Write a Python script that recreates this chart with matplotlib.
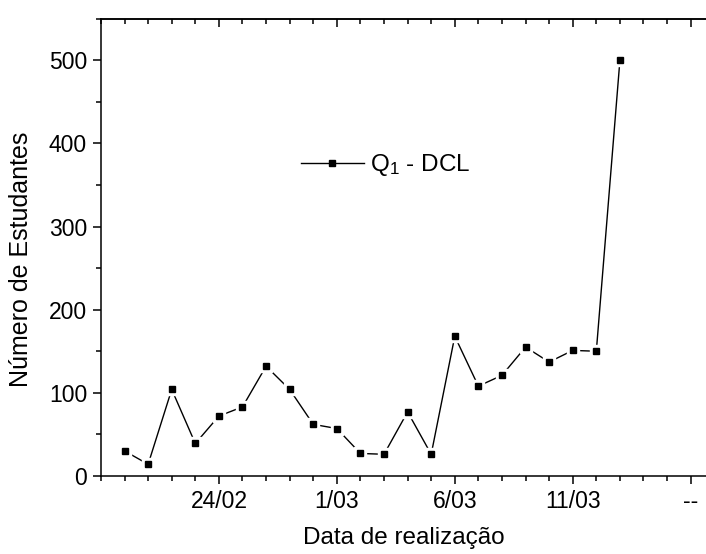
import numpy as np
import matplotlib.pyplot as plt
from matplotlib.ticker import MultipleLocator

plt.rcParams['font.family'] = ['Liberation Sans', 'DejaVu Sans']
plt.rcParams['mathtext.fontset'] = 'custom'
plt.rcParams['mathtext.rm'] = 'Liberation Sans'
plt.rcParams['mathtext.it'] = 'Liberation Sans'

# dias de realizacao (indice) e numero de estudantes
dias = np.arange(1, 23)
estudantes = [30, 14, 104, 39, 72, 83, 132, 104, 62, 57, 27, 26, 77,
              26, 168, 108, 121, 155, 137, 151, 150, 500]

tick_pos = [5, 10, 15, 20, 25]
tick_lab = ['24/02', '1/03', '6/03', '11/03', '--']

fig = plt.figure(figsize=(7.06, 5.54), dpi=100)
ax = fig.add_axes([0.143, 0.141, 0.857, 0.825])

ax.plot(dias, estudantes, color='black', lw=1, zorder=2)
# gaps around markers, like Origin
ax.plot(dias, estudantes, ls='none', marker='s', ms=9, color='white',
        mec='white', zorder=3)
ax.plot(dias, estudantes, ls='none', marker='s', ms=5, color='black',
        zorder=4)
leg_line, = ax.plot([], [], color='black', lw=1, marker='s', ms=5)

ax.set_xlim(0, 25.65)
ax.set_ylim(0, 550)
ax.set_xticks(tick_pos)
ax.set_xticklabels(tick_lab)
ax.xaxis.set_minor_locator(MultipleLocator(1))
ax.yaxis.set_major_locator(MultipleLocator(100))
ax.yaxis.set_minor_locator(MultipleLocator(50))

ax.spines['right'].set_visible(False)
for s in ax.spines.values():
    s.set_linewidth(1.1)

ax.tick_params(axis='both', which='major', labelsize=16.5, length=6, width=1.1,
               direction='out', pad=4)
ax.tick_params(axis='both', which='minor', length=3.5, width=1.1,
               direction='out')
ax.tick_params(axis='y', right=False, which='both')
ax.tick_params(axis='x', top=False, which='both')

# inward ticks on top
top = ax.secondary_xaxis('top')
top.set_xticks(tick_pos)
top.set_xticklabels([])
top.xaxis.set_minor_locator(MultipleLocator(1))
top.tick_params(which='major', direction='in', length=6, width=1.1)
top.tick_params(which='minor', direction='in', length=3.5, width=1.1)
top.spines['top'].set_linewidth(1.1)

ax.set_xlabel('Data de realização', fontsize=17.5, labelpad=10)
ax.set_ylabel('Número de Estudantes', fontsize=18)
ax.yaxis.set_label_coords(-0.112, 0.473)

ax.legend([leg_line], ['Q$_1$ - DCL'], loc='center left',
          bbox_to_anchor=(0.31, 0.68), frameon=False, fontsize=17.5,
          handlelength=2.6, handletextpad=0.25, borderpad=0)

fig.savefig('out.png', dpi=100)
